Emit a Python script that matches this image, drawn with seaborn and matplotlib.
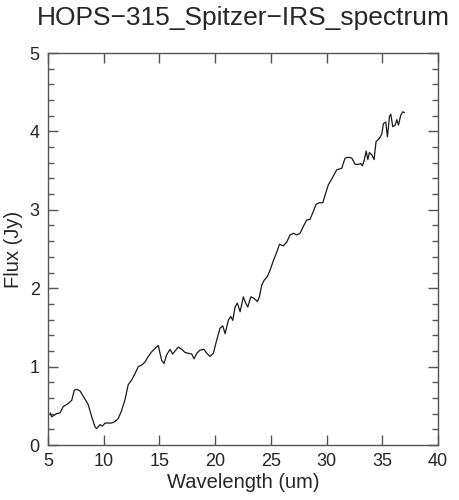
import numpy as np
import pandas as pd
import seaborn as sns
import matplotlib.pyplot as plt
from matplotlib.ticker import MultipleLocator

sns.set_style("ticks")
plt.rcParams['font.family'] = ['Liberation Sans', 'DejaVu Sans']

# spectrum
wavelength = [5.2, 5.33, 5.78, 6.08, 6.37, 6.82, 7.13, 7.36, 7.57, 7.87, 8.17, 8.47, 8.62,
              8.92, 9.22, 9.37, 9.67, 9.87, 10.12, 10.41, 10.72, 11.01, 11.31, 11.61,
              11.91, 12.2, 12.51, 12.81, 13.1, 13.41, 13.71, 14.0, 14.31, 14.6, 14.9,
              15.05, 15.2, 15.41, 15.65, 15.95, 16.19, 16.4, 16.7, 17.0, 17.3, 17.6,
              17.9, 18.1, 18.35, 18.64, 19.0, 19.25, 19.54, 19.84, 20.14, 20.44, 20.68,
              20.89, 21.18, 21.4, 21.58, 21.79, 21.99, 22.24, 22.53, 22.68, 22.93, 23.2,
              23.49, 23.79, 23.97, 24.18, 24.39, 24.69, 24.93, 25.22, 25.53, 25.77,
              26.12, 26.43, 26.72, 27.02, 27.32, 27.62, 27.92, 28.22, 28.52, 28.81,
              29.06, 29.35, 29.66, 29.87, 30.16, 30.45, 30.91, 31.36, 31.66, 31.96,
              32.26, 32.56, 32.86, 33.07, 33.21, 33.39, 33.55, 33.7, 33.84, 34.06,
              34.26, 34.44, 34.74, 34.96, 35.1, 35.31, 35.46, 35.64, 35.76, 35.94,
              36.15, 36.3, 36.45, 36.66, 36.84, 36.99]
flux = [0.41, 0.36, 0.40, 0.41, 0.49, 0.53, 0.57, 0.70, 0.71, 0.69, 0.62, 0.55, 0.51,
        0.36, 0.23, 0.21, 0.26, 0.24, 0.28, 0.28, 0.28, 0.30, 0.34, 0.44,
        0.58, 0.77, 0.83, 0.91, 1.00, 1.02, 1.06, 1.13, 1.19, 1.23, 1.27,
        1.17, 1.08, 1.04, 1.15, 1.22, 1.16, 1.20, 1.25, 1.22, 1.18, 1.17,
        1.16, 1.10, 1.17, 1.21, 1.22, 1.17, 1.13, 1.17, 1.34, 1.49, 1.52,
        1.42, 1.59, 1.64, 1.59, 1.76, 1.81, 1.70, 1.89, 1.83, 1.76, 1.89,
        1.87, 1.83, 1.89, 2.04, 2.10, 2.15, 2.23, 2.35, 2.46, 2.56,
        2.54, 2.59, 2.68, 2.70, 2.68, 2.70, 2.79, 2.87, 2.88, 2.98,
        3.07, 3.09, 3.09, 3.19, 3.32, 3.39, 3.51, 3.53, 3.66, 3.67,
        3.66, 3.58, 3.58, 3.59, 3.56, 3.64, 3.75, 3.64, 3.73, 3.70,
        3.64, 3.87, 3.91, 3.97, 4.10, 4.12, 3.93, 4.19, 4.22, 4.06,
        4.08, 4.15, 4.08, 4.21, 4.25, 4.24]

df = pd.DataFrame({'wavelength': wavelength, 'flux': flux})

fig = plt.figure(figsize=(4.59, 5.0), dpi=100)
ax = fig.add_axes([0.1046, 0.11, 0.8497, 0.784])

sns.lineplot(data=df, x='wavelength', y='flux', ax=ax, color='#1a1a1a', lw=0.9)

ax.set_xlim(5, 40)
ax.set_ylim(0, 5)
ax.xaxis.set_major_locator(MultipleLocator(5))
ax.yaxis.set_major_locator(MultipleLocator(1))
ax.yaxis.set_minor_locator(MultipleLocator(0.2))
ax.tick_params(which='both', direction='in', top=True, right=True,
               labelsize=13, color='#555555', width=1, pad=6)
ax.tick_params(which='major', length=7)
ax.tick_params(which='minor', length=4)
for s in ax.spines.values():
    s.set_color('#555555')
    s.set_linewidth(1)

ax.set_xlabel('Wavelength (um)', fontsize=14.5, labelpad=2)
ax.set_ylabel('Flux (Jy)', fontsize=14.5, labelpad=5)
ax.set_title('HOPS\u2212315_Spitzer\u2212IRS_spectrum', fontsize=19, pad=20)

plt.savefig('out.png', dpi=100)
